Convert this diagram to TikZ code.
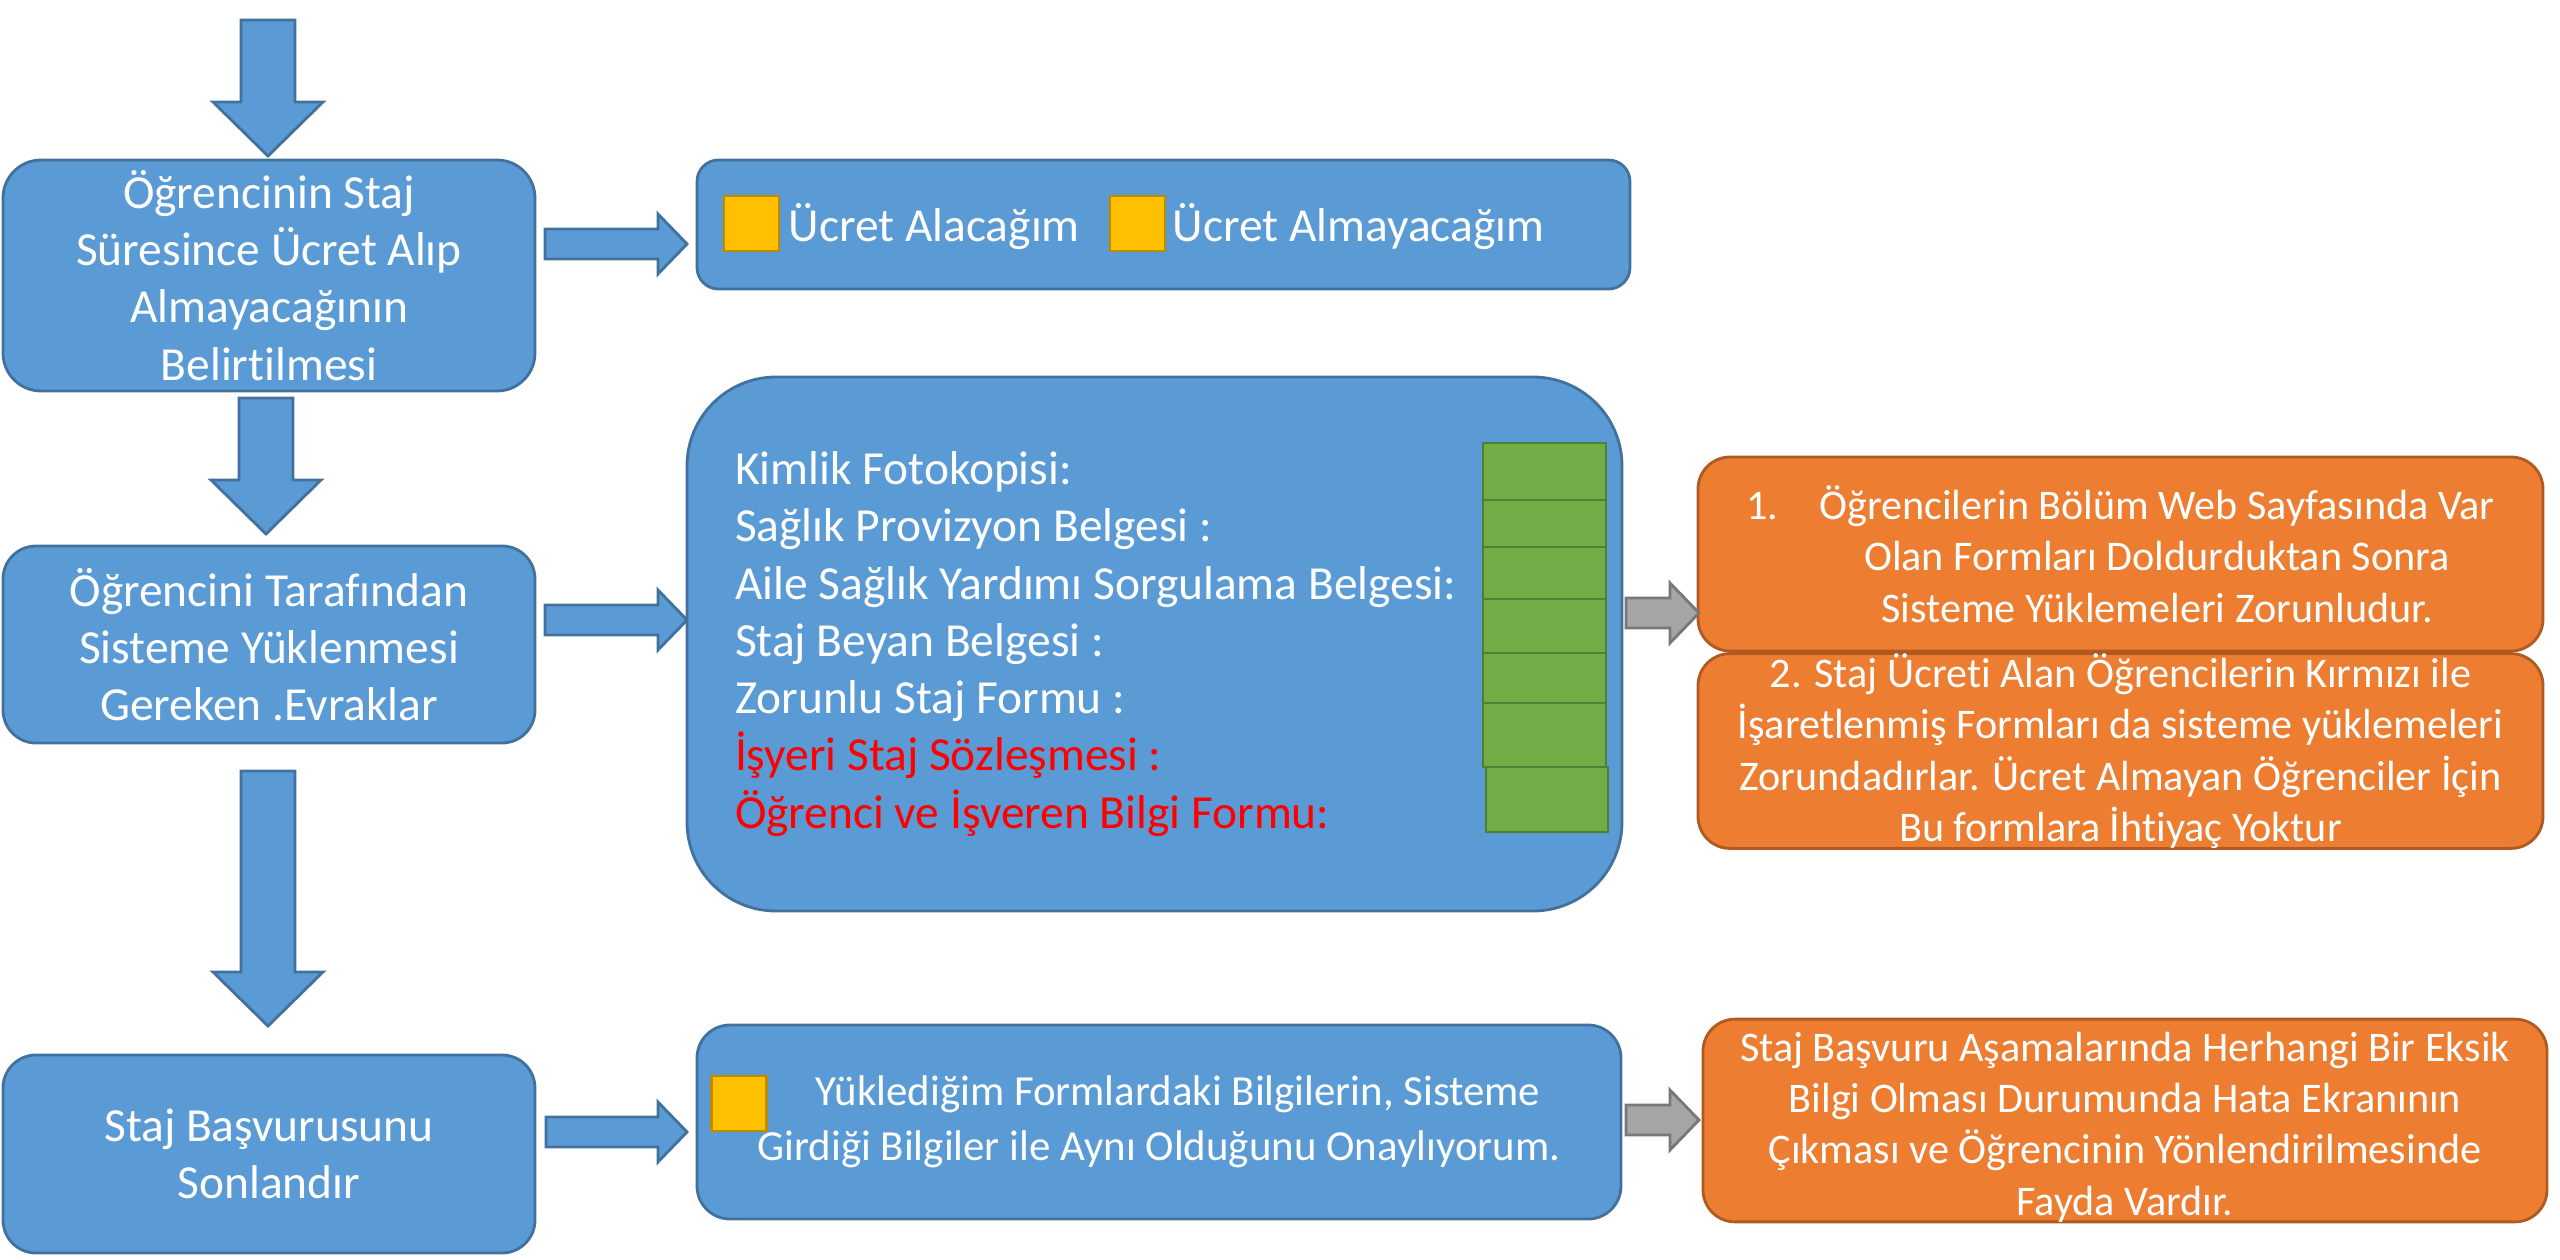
\documentclass[tikz,border=0pt]{standalone}
\usepackage{fontspec}
\setmainfont{Carlito}[Ligatures=NoCommon]
\usepackage{xcolor}
\usepackage{tikz}

\definecolor{boxblue}{HTML}{5B9BD5}
\definecolor{blueline}{HTML}{41719C}
\definecolor{boxorange}{HTML}{ED7D31}
\definecolor{orangeline}{HTML}{AE5A21}
\definecolor{boxgreen}{HTML}{70AD47}
\definecolor{greenline}{HTML}{507E32}
\definecolor{boxyellow}{HTML}{FFC000}
\definecolor{yellowline}{HTML}{BC8C00}
\definecolor{arrgray}{HTML}{A5A5A5}
\definecolor{grayline}{HTML}{787878}
\definecolor{formred}{HTML}{FF0000}

\newcommand{\bigfnt}{\fontsize{13.5}{16.3}\selectfont}
\newcommand{\midfnt}{\fontsize{12.2}{15.6}\selectfont}
\newcommand{\smallfnt}{\fontsize{12}{14.6}\selectfont}

% block arrow to the right: from x #1 to x #2 at height #3, style #4
\newcommand{\rblock}[4]{
    \draw [#4] (#1, {#3-15}) -- ({#2-29}, {#3-15}) -- ({#2-29}, {#3-30}) -- (#2, #3)
        -- ({#2-29}, {#3+30}) -- ({#2-29}, {#3+15}) -- (#1, {#3+15}) -- cycle;
}
% block arrow downwards: at x #1, from y #2, head starts at #3, tip at #4
\newcommand{\dblock}[4]{
    \draw [blockarr] ({#1-27}, #2) -- ({#1+27}, #2) -- ({#1+27}, #3) -- ({#1+55}, #3)
        -- (#1, #4) -- ({#1-55}, #3) -- ({#1-27}, #3) -- cycle;
}

\begin{document}
\begin{tikzpicture}[x=0.1mm, y=-0.1mm,
        bluebox/.style={draw=blueline, fill=boxblue, line width=0.8pt, rounded corners=#1,
            inner sep=0pt, text=white, align=center, font=\bigfnt},
        bluebox/.default=3.3mm,
        orangebox/.style={draw=orangeline, fill=boxorange, line width=0.8pt, rounded corners=3.2mm,
            inner sep=0pt, text=white, align=center, font=\smallfnt,
            minimum width=84.5mm, minimum height=19.4mm},
        checkbox/.style={draw=yellowline, fill=boxyellow, line width=0.8pt, inner sep=0pt,
            minimum width=5.5mm, minimum height=5.5mm},
        greenbox/.style={draw=greenline, fill=boxgreen, line width=0.8pt},
        blockarr/.style={draw=blueline, fill=boxblue, line width=0.8pt},
        grayarr/.style={draw=grayline, fill=arrgray, line width=0.8pt},
        whitetxt/.style={text=white, font=\bigfnt, inner sep=0pt}]
    \useasboundingbox (0, 0) rectangle (2560, 1260);

    % left column
    \node [bluebox=3.8mm, minimum width=53.2mm, minimum height=23.1mm] (belirt) at (269, 275.5)
        {Öğrencinin Staj\\Süresince Ücret Alıp\\Almayacağının\\Belirtilmesi};
    \node [bluebox, minimum width=53.2mm, minimum height=19.7mm] (evrak) at (269, 644.5)
        {Öğrencini Tarafından\\Sisteme Yüklenmesi\\Gereken .Evraklar};
    \node [bluebox, minimum width=53.2mm, minimum height=19.8mm] (sonlandir) at (269, 1154)
        {Staj Başvurusunu\\Sonlandır};

    % ucret choice
    \node [bluebox=2.15mm, minimum width=93.3mm, minimum height=12.9mm] (ucret) at (1163.5, 224.5) {};
    \node [checkbox] (alacak) at (751.5, 223.5) {};
    \node [whitetxt, anchor=base west] (alacaktxt) at (788, 241) {Ücret Alacağım};
    \node [checkbox] (almayacak) at (1137.5, 223.5) {};
    \node [whitetxt, anchor=base west] (almayacaktxt) at (1172, 241) {Ücret Almayacağım};

    % document list
    \node [bluebox=8.9mm, minimum width=93.5mm, minimum height=53.4mm, text width=83.9mm, align=flush left]
        (liste) at (1154.5, 644) {Kimlik Fotokopisi:\\
        Sağlık Provizyon Belgesi :\\
        Aile Sağlık Yardımı Sorgulama Belgesi:\\
        Staj Beyan Belgesi :\\
        Zorunlu Staj Formu :\\
        \textcolor{formred}{İşyeri Staj Sözleşmesi :}\\
        \textcolor{formred}{Öğrenci ve İşveren Bilgi Formu:}};
    \foreach \a/\b in {443/500, 500/547, 547/599, 599/653, 653/703, 703/767}
        \draw [greenbox] (1483, \a) rectangle (1606, \b);
    \draw [greenbox] (1486, 767) rectangle (1608, 832);

    % confirmation
    \node [bluebox, font=\midfnt, minimum width=92.4mm, minimum height=19.4mm] (onay) at (1159, 1122)
        {\hspace*{3.8mm}Yüklediğim Formlardaki Bilgilerin, Sisteme\\Girdiği Bilgiler ile Aynı Olduğunu Onaylıyorum.};
    \node [checkbox] (onaykutu) at (739, 1103.5) {};

    % notes
    \node [orangebox] (not1) at (2120.5, 554)
        {1.\hspace{4.1mm}Öğrencilerin Bölüm Web Sayfasında Var\\
        \hspace*{7.3mm}Olan Formları Doldurduktan Sonra\\
        \hspace*{7.3mm}Sisteme Yüklemeleri Zorunludur.};
    \node [orangebox] (not2) at (2120.5, 751)
        {2. Staj Ücreti Alan Öğrencilerin Kırmızı ile\\
        İşaretlenmiş Formları da sisteme yüklemeleri\\
        Zorundadırlar. Ücret Almayan Öğrenciler İçin\\
        Bu formlara İhtiyaç Yoktur};
    \node [orangebox, minimum width=84.4mm, minimum height=19.5mm] (hata) at (2125, 1120.5)
        {\rule{0pt}{4.2mm}Staj Başvuru Aşamalarında Herhangi Bir Eksik\\
        Bilgi Olması Durumunda Hata Ekranının\\
        Çıkması ve Öğrencinin Yönlendirilmesinde\\
        Fayda Vardır.};

    % block arrows
    \dblock{268}{20}{102}{156}
    \dblock{266}{398}{480}{534}
    \dblock{268}{771}{972}{1026}
    \rblock{545}{687}{244}{blockarr}
    \rblock{545}{687}{620}{blockarr}
    \rblock{546}{687}{1132}{blockarr}
    \rblock{1626}{1699}{613}{grayarr}
    \rblock{1626}{1699}{1120}{grayarr}
\end{tikzpicture}
\end{document}
